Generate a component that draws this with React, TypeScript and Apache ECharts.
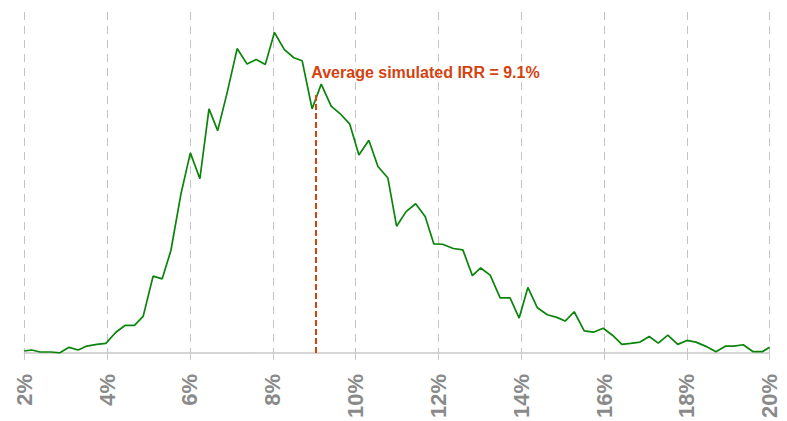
import React, { useEffect, useRef } from "react";
import * as echarts from "echarts";

// IRR (%) at each simulated density point
const irrValues: number[] = [
  2.0, 2.18, 2.38, 2.64, 2.85, 3.08, 3.3, 3.51, 3.75, 3.97,
  4.21, 4.44, 4.66, 4.87, 5.11, 5.33, 5.54, 5.78, 6.01, 6.24,
  6.46, 6.67, 6.9, 7.14, 7.38, 7.6, 7.82, 8.04, 8.28, 8.51,
  8.71, 8.95, 9.17, 9.41, 9.63, 9.86, 10.08, 10.32, 10.54, 10.78,
  10.99, 11.22, 11.45, 11.68, 11.89, 12.1, 12.36, 12.59, 12.82, 13.02,
  13.25, 13.49, 13.73, 13.95, 14.16, 14.39, 14.63, 14.86, 15.06, 15.28,
  15.52, 15.74, 15.98, 16.21, 16.43, 16.64, 16.87, 17.09, 17.31, 17.54,
  17.78, 18.0, 18.22, 18.46, 18.7, 18.94, 19.14, 19.36, 19.6, 19.82,
  20.0,
];

// simulated frequency at each IRR point
const frequency: number[] = [
  2, 3, 1, 1, 0, 5.7, 3, 7, 8.7, 9.7,
  21, 28, 28, 37, 77.7, 75, 103.7, 160.3, 202.5, 176.3,
  247, 225, 263.7, 308, 292.3, 297, 292, 324.3, 307, 298.7,
  295.7, 247, 272, 249.7, 242, 231.5, 200.3, 215.3, 188.7, 177,
  128.3, 143, 151, 138, 110.3, 110, 105.7, 104.3, 78.3, 86,
  78.7, 55.7, 55.7, 35.3, 66.3, 45.7, 38.7, 36, 32.3, 41.7,
  22.3, 21, 25, 17.7, 8.7, 9.7, 11, 16.7, 10, 18,
  8.7, 12.7, 11, 6.7, 1.3, 7, 7, 8.3, 1.3, 1.3,
  5.7,
];

const averageIrr = 9.05;
const averageLineTop = 261;
const averageLabel = "Average simulated IRR = 9.1%";

const xMin = 2;
const xMax = 20;
const xStep = 2;
const yMax = 345;

export default function App() {
  const ref = useRef<HTMLDivElement>(null);

  useEffect(() => {
    if (!ref.current) return;
    const chart = echarts.init(ref.current, null, { renderer: "svg" });
    const font = "'Liberation Sans', Arial, Helvetica, sans-serif";
    chart.setOption({
      animation: false,
      backgroundColor: "#ffffff",
      grid: { left: 24.3, right: 17.3, top: 12, bottom: 64, containLabel: false },
      xAxis: {
        type: "value",
        min: xMin,
        max: xMax,
        interval: xStep,
        axisLine: { show: true, lineStyle: { color: "#c8c8c8", width: 1.5 } },
        axisTick: { show: true, length: 7, lineStyle: { color: "#c8c8c8", width: 1 } },
        splitLine: {
          show: true,
          lineStyle: { color: "#c4c4c4", width: 1, type: [8, 6] },
        },
        axisLabel: {
          formatter: "{value}%",
          rotate: 90,
          margin: 21,
          fontSize: 22,
          fontWeight: "bold",
          color: "#8a8a8a",
          fontFamily: font,
          showMinLabel: true,
          showMaxLabel: true,
        },
      },
      yAxis: {
        type: "value",
        min: 0,
        max: yMax,
        show: false,
        splitLine: { show: false },
      },
      series: [
        {
          type: "line",
          data: irrValues.map((x, i) => [x, frequency[i]]),
          showSymbol: false,
          symbol: "none",
          lineStyle: { color: "#0a840a", width: 1.7 },
          z: 3,
          markLine: {
            silent: true,
            symbol: ["none", "none"],
            lineStyle: { color: "#d4420f", width: 2, type: [6, 3] },
            label: {
              show: true,
              position: "end",
              formatter: averageLabel,
              color: "#d4420f",
              fontSize: 16,
              fontWeight: "bold",
              fontFamily: font,
              align: "left",
              verticalAlign: "bottom",
              offset: [-5, -10],
            },
            data: [
              [
                { coord: [averageIrr, 0] },
                { coord: [averageIrr, averageLineTop] },
              ],
            ],
          },
        },
      ],
    });
    return () => chart.dispose();
  }, []);

  return (
    <div
      ref={ref}
      style={{ position: "fixed", left: 0, top: 0, width: 787, height: 421 }}
    />
  );
}
